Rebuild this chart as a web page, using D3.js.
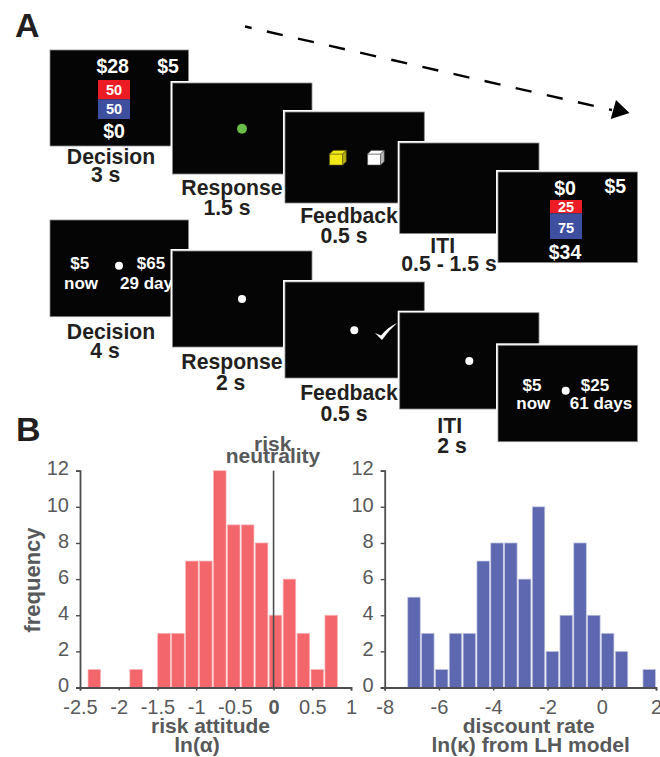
<!DOCTYPE html>
<html><head><meta charset="utf-8">
<style>html,body{margin:0;padding:0;background:#fff}svg{display:block}text{font-family:"Liberation Sans",Arial,sans-serif}</style>
<script src="https://cdn.jsdelivr.net/npm/d3@7"></script></head><body><script>
// --- data ---
const riskCenters=[-2.315,-2.135,-1.955,-1.775,-1.595,-1.415,-1.235,-1.055,-0.875,-0.695,-0.515,-0.335,-0.155,0.025,0.205,0.385,0.565,0.745];
const riskCounts=[1,0,0,1,0,3,3,7,7,12,9,9,8,4,6,3,1,4];
const discountCenters=[-6.92,-6.41,-5.90,-5.39,-4.88,-4.37,-3.86,-3.35,-2.84,-2.33,-1.82,-1.31,-0.80,-0.29,0.22,0.73,1.24,1.75];
const discountCounts=[5,3,1,3,3,7,8,8,6,10,2,4,8,4,3,2,0,1];
const riskTicks=[-2.5,-2,-1.5,-1,-0.5,0,0.5,1];
const discountTicks=[-8,-6,-4,-2,0,2];
const freqTicks=[0,2,4,6,8,10,12];
// --- trial screens (drawn back to front) ---
const screens=[[50,50,188.5,146],[172.5,83,312,174],[285,112,424.3,203],[399.7,143,539,233.5],[498,172,637.5,262.5],
 [50,220,188.5,316.7],[172.5,251,312,347],[285,282,424.3,378],[399.7,312.7,539,409],[498,345.3,637.5,441.7]];
const W=660,H=757;
const svg=d3.select("body").append("svg").attr("width",W).attr("height",H);
const ink="#231f20",grey="#58595b",axisCol="#4d4d4f";
function txt(s,x,y,size,o={}){return svg.append("text").attr("x",x).attr("y",y).attr("font-size",size)
 .attr("font-weight",o.w||"bold").attr("fill",o.c||ink).attr("text-anchor",o.a||"middle").text(s);}
function dot(x,y,r,c){svg.append("circle").attr("cx",x).attr("cy",y).attr("r",r).attr("fill",c||"#fff");}
function screen(i){const [a,b,c,d]=screens[i];
 svg.append("rect").attr("x",a-2).attr("y",b-2).attr("width",c-a+4).attr("height",d-b+4).attr("fill","#fff");
 svg.append("rect").attr("x",a).attr("y",b).attr("width",c-a).attr("height",d-b).attr("fill","#050505").attr("stroke","#8a8a8a").attr("stroke-width",.8);}
function stack(x,y0,y1,y2){svg.append("rect").attr("x",x).attr("y",y0).attr("width",32).attr("height",y1-y0).attr("fill","#ed1c24");
 svg.append("rect").attr("x",x).attr("y",y1).attr("width",32).attr("height",y2-y1).attr("fill","#3f4fa0");}
function cube(x,y,c,side,edge){const s=13,h=11,d=3.6;
 const face=(p,f)=>svg.append("path").attr("d",p).attr("fill",f).attr("stroke",edge).attr("stroke-width",.6).attr("stroke-linejoin","round");
 face(`M${x},${y}h${s}v${h}h${-s}z`,c);
 face(`M${x},${y}l${d},${-d}h${s}l${-d},${d}z`,c);
 face(`M${x+s},${y}l${d},${-d}v${h}l${-d},${d}z`,side);}

// risky task row
screen(0);
txt("$28",112.7,72.7,19.5,{c:"#fff"});txt("$5",168,72.7,19.5,{c:"#fff"});
stack(98,80,99.3,119);
txt("50",114,95,14.5,{c:"#fff"});txt("50",114,114,14.5,{c:"#fff"});
txt("$0",114,138,19.5,{c:"#fff"});
screen(1);dot(242,128.7,5,"#6abd45");
screen(2);cube(329.6,154,"#f2e816","#b5ad12","#6b6a10");cube(367.6,154,"#fff","#bcbcbc","#555");
screen(3);
screen(4);
txt("$0",565,194.7,19.5,{c:"#fff"});txt("$5",615.3,192.7,19.5,{c:"#fff"});
stack(550,200,213.3,239);
txt("25",566,212,14.5,{c:"#fff"});txt("75",566,232.5,14.5,{c:"#fff"});
txt("$34",565,259,19.5,{c:"#fff"});

// delay task row
screen(5);
txt("$5",79.7,269,17,{c:"#fff"});txt("now",81,289.3,17,{c:"#fff"});dot(119,265.7,4);
txt("$65",151,269,17,{c:"#fff"});txt("29 days",120,289.3,17,{c:"#fff",a:"start"});
screen(6);dot(242,299,4);
screen(7);dot(354.3,330.3,4);
svg.append("path").attr("d","M375,333 L381,335.5 Q388,327 397,323 Q388,331 382,340 Z").attr("fill","#fff");
screen(8);dot(469.3,361,4);
screen(9);
txt("$5",532,390.7,17,{c:"#fff"});txt("now",533.3,409,17,{c:"#fff"});dot(565.7,390.7,4);
txt("$25",595,390.7,17,{c:"#fff"});txt("61 days",601,409,17,{c:"#fff"});

// stage labels
[["Decision",111,164],["3 s",105.7,181.7],["Response",232,194.7],["1.5 s",227,215],["Feedback",349,222.7],["0.5 s",344,243],
 ["ITI",442.7,252.7],["0.5 - 1.5 s",449,270.7],["Decision",111,339.3],["4 s",105,357.7],["Response",232,369.3],["2 s",230.7,390],
 ["Feedback",349,400],["0.5 s",344,420.7],["ITI",449.7,433.3],["2 s",452,453.3]].forEach(d=>txt(d[0],d[1],d[2],21.2));

txt("A",15,36.7,34,{a:"start"});txt("B",16,441,34,{a:"start"});

// time arrow
svg.append("line").attr("x1",245).attr("y1",26.5).attr("x2",612).attr("y2",110)
 .attr("stroke","#000").attr("stroke-width",2.4).attr("stroke-dasharray","16.3 15.6").attr("stroke-dashoffset",9.5);
svg.append("path").attr("d","M629.5,113 L616,100 L610.7,119 Z").attr("fill","#000");

// histograms
function hist(o){
 const x=d3.scaleLinear().domain(o.dom).range(o.xr),y=d3.scaleLinear().domain([0,12]).range([687.5,470.7]);
 const g=svg.append("g");
 g.selectAll("rect").data(o.counts).join("rect")
  .attr("x",(d,i)=>x(o.centers[i]-o.bw/2)).attr("width",x(o.bw)-x(0))
  .attr("y",d=>y(d)).attr("height",d=>y(0)-y(d)).attr("fill",o.color).attr("stroke",o.edge).attr("stroke-width",.7);
 const ax=g.append("g").attr("transform","translate(0,687.5)").call(d3.axisBottom(x).tickValues(o.ticks).tickSize(3).tickFormat(d=>String(d)));
 const ay=g.append("g").attr("transform",`translate(${o.xr[0]},0)`).call(d3.axisLeft(y).tickValues(freqTicks).tickSize(4));
 [ax,ay].forEach(a=>{a.select(".domain").attr("stroke",axisCol).attr("stroke-width",1.8);
  a.selectAll("line").attr("stroke",axisCol).attr("stroke-width",1.4);
  a.selectAll("text").attr("fill",grey).attr("font-size",20).attr("font-family","Liberation Sans, Arial, sans-serif");});
 ax.selectAll("text").attr("y",12).attr("dy","0.71em");
 ay.selectAll("text").attr("x",-11).attr("y",-3).attr("dy","0.36em");
 return {x,y,ax};
}
const left=hist({dom:[-2.5,1],xr:[80,351],centers:riskCenters,counts:riskCounts,bw:0.163,ticks:riskTicks,color:"#f2666c",edge:"#f9b9bb"});
const right=hist({dom:[-8,2],xr:[384.7,656],centers:discountCenters,counts:discountCounts,bw:0.46,ticks:discountTicks,color:"#5e68b0",edge:"#c3c7e3"});
left.ax.selectAll("text").filter(d=>d===0).attr("font-weight","bold");
svg.append("line").attr("x1",left.x(0)).attr("x2",left.x(0)).attr("y1",470.7).attr("y2",687.5).attr("stroke",axisCol).attr("stroke-width",1.6);

txt("frequency",40,580,22,{c:grey}).attr("transform","rotate(-90 40 580)");
txt("risk",272.7,450.7,21,{c:grey});txt("neutrality",273,463,21,{c:grey});
txt("risk attitude",210.5,732.7,21,{c:grey});txt("ln(α)",197,751.7,21,{c:grey});
txt("discount rate",528.7,732.7,21,{c:grey});txt("ln(κ) from LH model",530.7,751.7,21,{c:grey});
</script></body></html>
